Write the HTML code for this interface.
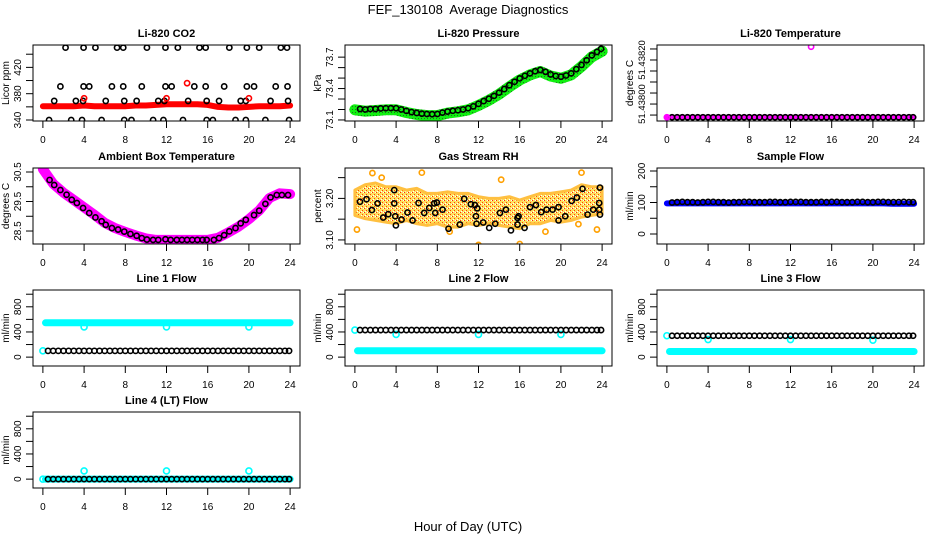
<!DOCTYPE html>
<html><head><meta charset="utf-8">
<style>
html,body{margin:0;padding:0;background:#fff;}
svg{display:block;font-family:"Liberation Sans",Arial,sans-serif;}
</style></head>
<body>
<svg id="chart" width="936" height="540" viewBox="0 0 936 540" xmlns="http://www.w3.org/2000/svg">
<defs>
<pattern id="rhpat" width="4" height="4" patternUnits="userSpaceOnUse">
<rect width="4" height="4" fill="#ffe060"/><rect x="0" y="0" width="1" height="1" fill="#ff3000"/><rect x="2" y="2" width="1" height="1" fill="#ff4000"/><rect x="3" y="0" width="1" height="1" fill="#fff"/><rect x="1" y="3" width="1" height="1" fill="#fff"/>
</pattern>
<pattern id="grpat" width="3" height="3" patternUnits="userSpaceOnUse">
<rect width="3" height="3" fill="#10f010"/><rect x="1" y="1" width="1" height="1" fill="#207020"/>
</pattern>
</defs>
<text x="468" y="14" text-anchor="middle" font-size="13">FEF_130108&#160; Average Diagnostics</text>
<text x="468" y="531" text-anchor="middle" font-size="13">Hour of Day (UTC)</text>
</svg>
<script>
// ---- shared data ----
const hourTicks = [0,4,8,12,16,20,24];
const hourly = [0,1,2,3,4,5,6,7,8,9,10,11,12,13,14,15,16,17,18,19,20,21,22,23,24];
const halfHours = [0.5,1,1.5,2,2.5,3,3.5,4,4.5,5,5.5,6,6.5,7,7.5,8,8.5,9,9.5,10,10.5,11,11.5,12,12.5,13,13.5,14,14.5,15,15.5,16,16.5,17,17.5,18,18.5,19,19.5,20,20.5,21,21.5,22,22.5,23,23.5,23.9];

// CO2
const co2Band = [361,361,361,361,362,361,361,361,361,362,362,363,364,364,364,364,363,360,359,359,360,361,361,361,362];
const co2BlackHours = [2.2,3.95,5.1,7.2,7.8,10.1,11.9,13.1,15.2,15.8,18.1,19.8,21.0,23.1,23.7,
 1.7,3.95,4.5,6.7,7.8,9.6,11.9,12.5,14.7,15.8,17.6,19.8,20.5,22.6,23.75,
 1.1,3.2,3.9,6.1,7.9,9.1,11.2,11.8,14.1,15.9,17.1,19.2,19.7,22.1,23.8,
 0.6,2.75,3.8,5.7,7.9,8.6,10.7,11.7,13.6,15.9,16.5,18.7,19.7,21.6,23.9];
const co2BlackValues = [450,450,450,450,450,450,450,450,450,450,450,450,450,450,450,
 391,391,391,391,391,391,391,391,391,391,391,391,391,391,391,
 369,369,369,369,369,369,369,369,369,369,369,369,369,369,369,
 340,340,340,340,340,340,340,340,340,340,340,340,340,340,340];
const co2RedHours = [4,12,14,20];
const co2RedValues = [373,373,396,373];

// Pressure
const presBand = [73.197,73.184,73.19,73.197,73.197,73.171,73.152,73.142,73.142,73.165,73.178,73.197,73.239,73.288,73.346,73.417,73.482,73.53,73.563,73.52,73.498,73.53,73.611,73.702,73.757];
const presBlack = [73.205,73.2,73.205,73.205,73.21,73.212,73.213,73.212,73.2,73.187,73.175,73.167,73.16,73.157,73.155,73.157,73.17,73.18,73.188,73.193,73.2,73.212,73.23,73.254,73.28,73.303,73.33,73.361,73.395,73.432,73.465,73.497,73.522,73.545,73.565,73.578,73.56,73.535,73.52,73.513,73.525,73.545,73.585,73.626,73.67,73.717,73.75,73.78];

// Li-820 temperature
const tempBand = [51.43794,51.43794,51.43794,51.43794,51.43794,51.43794,51.43794,51.43794,51.43794,51.43794,51.43794,51.43794,51.43794,51.43794,51.43794,51.43794,51.43794,51.43794,51.43794,51.43794,51.43794,51.43794,51.43794,51.43794,51.43794];
const tempBlack = [51.43794,51.43794,51.43794,51.43794,51.43794,51.43794,51.43794,51.43794,51.43794,51.43794,51.43794,51.43794,51.43794,51.43794,51.43794,51.43794,51.43794,51.43794,51.43794,51.43794,51.43794,51.43794,51.43794,51.43794,51.43794,51.43794,51.43794,51.43794,51.43794,51.43794,51.43794,51.43794,51.43794,51.43794,51.43794,51.43794,51.43794,51.43794,51.43794,51.43794,51.43794,51.43794,51.43794,51.43794,51.43794,51.43794,51.43794,51.43794];
const tempOutHours = [0,14];
const tempOutValues = [51.43794,51.43826];

// Ambient box temperature
const ambBand = [30.6,30.1,29.8,29.55,29.3,29.05,28.78,28.6,28.47,28.35,28.25,28.2,28.2,28.2,28.2,28.2,28.2,28.27,28.45,28.65,28.9,29.2,29.62,29.78,29.75];
const ambBlackHours = [0.65,1.1,1.7,2.3,2.8,3.3,3.9,4.5,5.1,5.7,6.1,6.7,7.3,7.9,8.5,9.1,9.6,10.1,10.7,11.2,11.9,12.4,13.0,13.5,14.0,14.5,15.0,15.5,15.9,16.6,17.1,17.6,18.1,18.7,19.2,19.7,20.5,21.0,21.6,22.1,22.7,23.2,23.8];
const ambBlackValues = [30.23,30.06,29.89,29.73,29.56,29.45,29.28,29.11,28.96,28.83,28.71,28.6,28.55,28.48,28.4,28.34,28.26,28.21,28.2,28.2,28.22,28.2,28.2,28.2,28.2,28.2,28.2,28.2,28.2,28.2,28.26,28.36,28.49,28.6,28.76,28.88,29.04,29.19,29.42,29.64,29.72,29.72,29.72];

// Gas stream RH
const rhUpper = [3.220,3.233,3.237,3.228,3.228,3.220,3.224,3.212,3.212,3.216,3.212,3.212,3.204,3.200,3.200,3.204,3.196,3.204,3.212,3.212,3.216,3.220,3.233,3.228,3.228];
const rhLower = [3.159,3.151,3.147,3.143,3.139,3.147,3.139,3.135,3.139,3.131,3.131,3.139,3.135,3.139,3.135,3.131,3.127,3.139,3.139,3.147,3.143,3.147,3.155,3.159,3.163];
const rhOutHours = [0.2,1.7,6.5,9.2,12.0,16.0,22.0,23.5,21.7,18.5,2.6,14.2];
const rhOutValues = [3.125,3.261,3.262,3.120,3.088,3.090,3.262,3.125,3.138,3.120,3.250,3.245];
const rhBlackHours = [0.49,1.13,1.65,2.2,2.75,3.24,3.82,3.82,3.92,3.98,4.53,5.11,5.6,6.18,6.73,7.22,7.7,7.8,7.96,8.51,9.09,10.19,10.61,11.26,11.65,11.75,11.81,11.88,12.46,13.04,13.62,14.08,14.66,15.15,15.79,15.79,15.89,16.47,17.0,17.57,18.09,18.61,19.19,19.77,19.77,20.42,21.04,21.55,22.1,22.59,23.14,23.72,23.79,23.79,23.72];
const rhBlackValues = [3.192,3.198,3.172,3.188,3.154,3.162,3.220,3.188,3.157,3.135,3.149,3.166,3.147,3.189,3.165,3.177,3.188,3.165,3.19,3.173,3.127,3.137,3.199,3.186,3.184,3.157,3.139,3.176,3.142,3.129,3.139,3.165,3.173,3.123,3.153,3.137,3.157,3.129,3.179,3.184,3.167,3.173,3.173,3.179,3.147,3.157,3.194,3.202,3.223,3.161,3.173,3.189,3.161,3.226,3.173];

// Sample flow
const sampleBand = [97,97,97,97,97,97,97,97,97,97,97,97,97,97,97,97,97,97,97,97,97,97,96,96,96];
const sampleBlack = [100,101,102,101,101,100,101,102,102,101,101,100,101,101,102,102,101,101,101,102,102,101,101,102,102,102,101,101,101,102,101,102,102,101,101,101,102,102,101,101,102,102,101,101,101,102,101,101];

// Line flows
const line1Black = [100,100,100,100,100,100,100,100,100,100,100,100,100,100,100,100,100,100,100,100,100,100,100,100,100,100,100,100,100,100,100,100,100,100,100,100,100,100,100,100,100,100,100,100,100,100,100,100];
const line1Cyan = [545,545,545,545,545,545,545,545,545,545,545,545,545,545,545,545,545,545,545,545,545,545,545,545,545];
const line1OutHours = [0,4,12,20];
const line1OutValues = [100,480,480,480];
const line2Black = [430,430,430,430,430,430,430,430,430,430,430,430,430,430,430,430,430,430,430,430,430,430,430,430,430,430,430,430,430,430,430,430,430,430,430,430,430,430,430,430,430,430,430,430,430,430,430,430];
const line2Cyan = [100,100,100,100,100,100,100,100,100,100,100,100,100,100,100,100,100,100,100,100,100,100,100,100,100];
const line2OutHours = [0,4,12,20];
const line2OutValues = [430,360,360,360];
const line3Black = [340,340,340,340,340,340,340,340,340,340,340,340,340,340,340,340,340,340,340,340,340,340,340,340,340,340,340,340,340,340,340,340,340,340,340,340,340,340,340,340,340,340,340,340,340,340,340,340];
const line3Cyan = [90,90,90,90,90,90,90,90,90,90,90,90,90,90,90,90,90,90,90,90,90,90,90,90,90];
const line3OutHours = [0,4,12,20];
const line3OutValues = [340,280,280,270];
const line4Black = [0,0,0,0,0,0,0,0,0,0,0,0,0,0,0,0,0,0,0,0,0,0,0,0,0,0,0,0,0,0,0,0,0,0,0,0,0,0,0,0,0,0,0,0,0,0,0,0];
const line4Cyan = [0,0,0,0,0,0,0,0,0,0,0,0,0,0,0,0,0,0,0,0,0,0,0,0,0];
const line4OutHours = [0,4,12,20];
const line4OutValues = [0,130,130,130];

// tick arrays
const co2Ticks = [340,360,380,400,420,440];
const co2Labels = ["340","","380","","420",""];
const presTicks = [73.1,73.2,73.3,73.4,73.5,73.6,73.7];
const presLabels = ["73.1","","","73.4","","","73.7"];
const tempTicks = [51.43795,51.43800,51.43805,51.43810,51.43815,51.43820,51.43825];
const tempLabels = ["","51.43800","","","","51.43820",""];
const ambTicks = [28.5,29.0,29.5,30.0,30.5];
const ambLabels = ["28.5","","29.5","","30.5"];
const rhTicks = [3.10,3.15,3.20,3.25];
const rhLabels = ["3.10","","3.20",""];
const sampleTicks = [0,50,100,150,200];
const sampleLabels = ["0","","100","","200"];
const flowTicks = [0,200,400,600,800,1000];
const flowLabels = ["0","","400","","800",""];

const NS = "http://www.w3.org/2000/svg";
const svg = document.getElementById('chart');
function mk(tag, attrs, parent){
  const e = document.createElementNS(NS, tag);
  for (const k in attrs) e.setAttribute(k, attrs[k]);
  (parent||svg).appendChild(e);
  return e;
}
const colLeft = [33,345,657];
const boxW = 267, boxH = 76;
const rowTop = [45,168,290,412];

function makePanel(col,row,title,ylab,ymin,ymax,ticks,labels,slug,labelSize){
  const L = colLeft[col], T = rowTop[row];
  const g = mk('g',{});
  
  
  const xs = h => L + boxW*(h + 0.96)/25.92;
  const ys = v => T + boxH - boxH*(v - ymin)/(ymax - ymin);
  const t = mk('text',{x:L+boxW/2,y:T-8,'text-anchor':'middle','font-size':'11','font-weight':'bold'},g);
  t.textContent = title;
  
  
  const xa = mk('g',{},g);
  
  
  mk('line',{x1:xs(0),x2:xs(24),y1:T+boxH,y2:T+boxH,stroke:'#000','stroke-width':1},xa);
  hourTicks.forEach(h=>{
    mk('line',{x1:xs(h),x2:xs(h),y1:T+boxH,y2:T+boxH+7,stroke:'#000','stroke-width':1},xa);
    const tl = mk('text',{x:xs(h),y:T+boxH+22,'text-anchor':'middle','font-size':'10'},xa);
    tl.textContent = h;
  });
  const ya = mk('g',{},g);
  
  
  ticks.forEach((v,i)=>{
    const y = ys(v);
    mk('line',{x1:L-7,x2:L,y1:y,y2:y,stroke:'#000','stroke-width':1},ya);
    if (labels[i]) {
      const tl = mk('text',{x:L-12,y:y,'text-anchor':'middle','font-size':labelSize||'10',transform:`rotate(-90 ${L-12} ${y})`},ya);
      tl.textContent = labels[i];
    }
  });
  mk('line',{x1:L,x2:L,y1:ys(ticks[0]),y2:ys(ticks[ticks.length-1]),stroke:'#000','stroke-width':1},ya);
  const yl = mk('text',{x:L-24,y:T+boxH/2,'text-anchor':'middle','font-size':'10',transform:`rotate(-90 ${L-24} ${T+boxH/2})`},g);
  yl.textContent = ylab;
  
  
  const clipId = 'clip-' + slug;
  const cp = mk('clipPath',{id:clipId},g);
  mk('rect',{x:L,y:T,width:boxW,height:boxH},cp);
  const plot = mk('g',{'clip-path':`url(#${clipId})`},g);
  
  
  const box = mk('rect',{x:L,y:T,width:boxW,height:boxH,fill:'none',stroke:'#000','stroke-width':1},g);
  
  
  return {xs,ys,plot,g,box};
}
function band(p, hours, vals, color, width, name){
  const pts = hours.map((h,i)=>p.xs(h).toFixed(1)+','+p.ys(vals[i]).toFixed(1)).join(' ');
  const e = mk('polyline',{points:pts,fill:'none',stroke:color,'stroke-width':width,'stroke-linejoin':'round','stroke-linecap':'round'},p.plot);
  
  
}
function circles(p, hours, vals, color, name, r){
  hours.forEach((h,i)=>{
    const c = mk('circle',{cx:p.xs(h),cy:p.ys(vals[i]),r:r||2.6,fill:'none',stroke:color,'stroke-width':1.6},p.plot);
    
    
  });
}
function area(p, hours, up, lo, fill, name){
  const a = hours.map((h,i)=>p.xs(h).toFixed(1)+','+p.ys(up[i]).toFixed(1));
  const b = hours.slice().reverse().map((h,j)=>{const i=hours.length-1-j;return p.xs(h).toFixed(1)+','+p.ys(lo[i]).toFixed(1);});
  const e = mk('polygon',{points:a.concat(b).join(' '),fill:fill,stroke:'#ffc040','stroke-width':3,'stroke-linejoin':'round'},p.plot);
  
  
}

let p = makePanel(0,0,'Li-820 CO2','Licor ppm',338.5,454,co2Ticks,co2Labels,'co2');
band(p,hourly,co2Band,'#ff0000',6,'co2-band');
circles(p,co2BlackHours,co2BlackValues,'#000','co2-point');
circles(p,co2RedHours,co2RedValues,'#ff0000','co2-red-point');

p = makePanel(1,0,'Li-820 Pressure','kPa',73.09,73.816,presTicks,presLabels,'pressure');
band(p,hourly,presBand,'url(#grpat)',11,'pressure-band');
circles(p,halfHours,presBlack,'#000','pressure-point');

p = makePanel(2,0,'Li-820 Temperature','degrees C',51.437923,51.438268,tempTicks,tempLabels,'li820-temp','9.5');
band(p,hourly,tempBand,'#ff00ff',5,'li820-temp-band');
circles(p,halfHours,tempBlack,'#000','li820-temp-point');
circles(p,tempOutHours,tempOutValues,'#ff00ff','li820-temp-outlier');

p = makePanel(0,1,'Ambient Box Temperature','degrees C',28.06,30.636,ambTicks,ambLabels,'ambient-temp');
band(p,hourly,ambBand,'#ff00ff',10,'ambient-band');
circles(p,ambBlackHours,ambBlackValues,'#000','ambient-point');

p = makePanel(1,1,'Gas Stream RH','percent',3.0902,3.2732,rhTicks,rhLabels,'rh');
area(p,hourly,rhUpper,rhLower,'url(#rhpat)','rh-cloud');
circles(p,rhOutHours,rhOutValues,'#ffa000','rh-outlier');
circles(p,rhBlackHours,rhBlackValues,'#000','rh-point');

p = makePanel(2,1,'Sample Flow','ml/min',-31.7,209.5,sampleTicks,sampleLabels,'sample-flow');
band(p,hourly,sampleBand,'#0000ff',6,'sample-band');
circles(p,halfHours,sampleBlack,'#000','sample-point');

const flowPanels = [
  [0,2,'Line 1 Flow','line1',line1Black,line1Cyan,line1OutHours,line1OutValues],
  [1,2,'Line 2 Flow','line2',line2Black,line2Cyan,line2OutHours,line2OutValues],
  [2,2,'Line 3 Flow','line3',line3Black,line3Cyan,line3OutHours,line3OutValues],
  [0,3,'Line 4 (LT) Flow','line4',line4Black,line4Cyan,line4OutHours,line4OutValues]
];
flowPanels.forEach(f=>{
  const q = makePanel(f[0],f[1],f[2],'ml/min',-141,1067,flowTicks,flowLabels,f[3]);
  band(q,hourly.slice(1).map((h,i)=>i===0?0.25:h),f[5].slice(1),'#00ffff',7,f[3]+'-cyan-band');
  circles(q,f[6],f[7],'#00ffff',f[3]+'-cyan-point',3);
  circles(q,halfHours,f[4],'#000',f[3]+'-black-point');
});
</script>
</body></html>
